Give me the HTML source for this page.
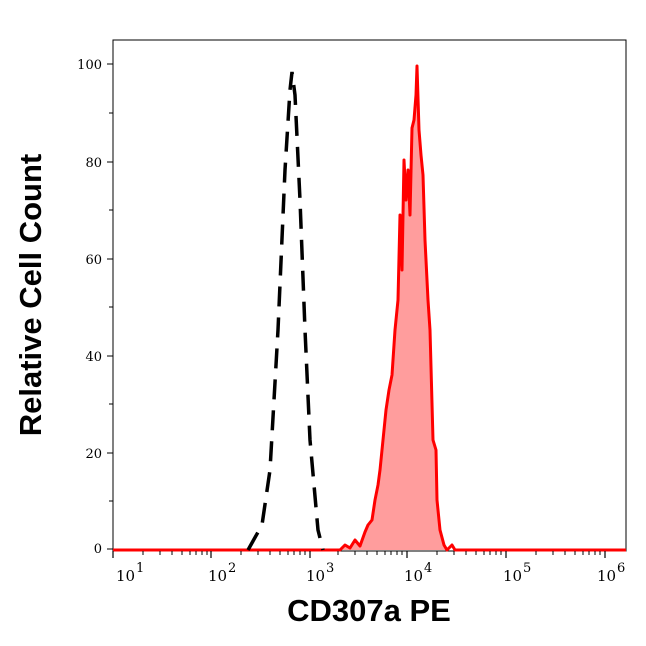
<!DOCTYPE html>
<html><head><style>body{margin:0;background:#fff}</style></head><body>
<svg width="646" height="641" xmlns="http://www.w3.org/2000/svg" font-family="DejaVu Serif, serif">
<rect x="113" y="40" width="513" height="511" fill="none" stroke="#000" stroke-width="1"/>
<g stroke="#000" stroke-width="1">
<line x1="107" y1="64" x2="113" y2="64"/><line x1="107" y1="162" x2="113" y2="162"/><line x1="107" y1="259" x2="113" y2="259"/><line x1="107" y1="356" x2="113" y2="356"/><line x1="107" y1="453" x2="113" y2="453"/><line x1="107" y1="549" x2="113" y2="549"/>
<line x1="109" y1="113" x2="113" y2="113"/><line x1="109" y1="210" x2="113" y2="210"/><line x1="109" y1="307" x2="113" y2="307"/><line x1="109" y1="404" x2="113" y2="404"/><line x1="109" y1="501" x2="113" y2="501"/>
</g>
<g font-size="13" text-anchor="end">
<text x="102" y="69">100</text><text x="102" y="167">80</text><text x="102" y="264">60</text><text x="102" y="361">40</text><text x="102" y="458">20</text><text x="102" y="553">0</text>
</g>
<g font-size="15">
<text x="116" y="581">10</text><text x="136" y="572" font-size="13">1</text>
<text x="208" y="581">10</text><text x="228" y="572" font-size="13">2</text>
<text x="306" y="581">10</text><text x="326" y="572" font-size="13">3</text>
<text x="404" y="581">10</text><text x="424" y="572" font-size="13">4</text>
<text x="503" y="581">10</text><text x="523" y="572" font-size="13">5</text>
<text x="597" y="581">10</text><text x="617" y="572" font-size="13">6</text>
</g>
<polygon fill="#ff9d9d" points="340,550 345,545 350,548 355,540 360,546 365,532 368,525 372,520 375,500 378,485 380,470 383,440 386,410 389,390 392,375 395,330 398,300 400,215 402,270 404,160 406,200 408,170 410,215 412,128 414,120 416,95 417,66 419,130 421,155 423,175 425,240 428,300 430,330 433,440 436,450 437,500 440,530 444,545 447,550"/>
<polyline fill="none" stroke="#ff0000" stroke-width="3" stroke-linejoin="round" points="113,550 340,550 345,545 350,548 355,540 360,546 365,532 368,525 372,520 375,500 378,485 380,470 383,440 386,410 389,390 392,375 395,330 398,300 400,215 402,270 404,160 406,200 408,170 410,215 412,128 414,120 416,95 417,66 419,130 421,155 423,175 425,240 428,300 430,330 433,440 436,450 437,500 440,530 444,545 447,550 452,545 455,550 626,550"/>
<polyline fill="none" stroke="#000" stroke-width="3.5" stroke-dasharray="20,11" points="248,550 262,525 270,470 278,330 285,170 290,90 292,72 295,95 300,200 305,330 310,440 318,530 323,550"/>
<g stroke="#000" stroke-width="1.2">
<line x1="113" y1="551" x2="113" y2="558"/><line x1="211" y1="551" x2="211" y2="558"/><line x1="310" y1="551" x2="310" y2="558"/><line x1="407" y1="551" x2="407" y2="558"/><line x1="506" y1="551" x2="506" y2="558"/><line x1="605" y1="551" x2="605" y2="558"/>
</g>
<g stroke="#000" stroke-width="1">
<path d="M143,551v4M160,551v4M172,551v4M182,551v4M190,551v4M196,551v4M202,551v4M207,551v4
M241,551v4M258,551v4M270,551v4M280,551v4M288,551v4M294,551v4M300,551v4M305,551v4
M338,551v4M355,551v4M367,551v4M377,551v4M385,551v4M391,551v4M397,551v4M402,551v4
M437,551v4M454,551v4M466,551v4M476,551v4M484,551v4M490,551v4M496,551v4M501,551v4
M536,551v4M553,551v4M565,551v4M575,551v4M583,551v4M589,551v4M595,551v4M600,551v4"/>
</g>
<text x="369" y="621" font-family="Liberation Sans, sans-serif" font-weight="bold" font-size="31" text-anchor="middle">CD307a PE</text>
<text transform="translate(41,295) rotate(-90)" font-family="Liberation Sans, sans-serif" font-weight="bold" font-size="31" text-anchor="middle">Relative Cell Count</text>
</svg>
</body></html>
